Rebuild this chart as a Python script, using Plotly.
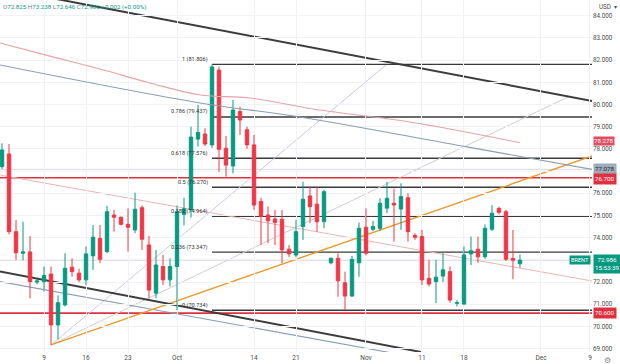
import plotly.graph_objects as go

# ---------------- data (daily bars incl. Sunday session; index 0 = Mon 2 Sep 2024) ----------------
bar_idx = list(range(75))
opens = [77.20, 77.77, 74.27, 73.30, 73.36, 72.00, 72.02, 72.36, 70.07, 70.97,
         72.67, 72.40, 72.10, 73.18, 73.97, 73.37, 75.02, 74.92, 74.60, 74.35,
         75.35, 73.67, 71.50, 72.70, 72.10, 72.70, 75.05, 75.25, 78.44, 78.67,
         78.18, 81.55, 78.03, 77.23, 79.68, 78.86, 78.18, 75.63, 75.02, 74.84,
         74.83, 73.48, 73.22, 74.50, 75.88, 75.51, 74.72, 72.87, 73.07, 71.97,
         71.37, 72.87, 74.47, 74.38, 74.42, 75.33, 75.55, 75.29, 75.80, 74.10,
         74.05, 72.17, 72.02, 72.27, 72.47, 71.05, 71.01, 73.27, 73.48, 73.14,
         74.38, 75.32, 75.17, 73.06, 72.825]
highs = [78.25, 78.22, 74.80, 74.72, 74.08, 72.15, 72.70, 72.70, 71.40, 73.30,
         73.07, 72.60, 73.60, 74.57, 74.57, 75.43, 75.25, 74.95, 75.32, 76.03,
         75.45, 74.08, 73.45, 73.22, 73.07, 75.45, 75.80, 79.00, 79.98, 78.93,
         81.806, 81.70, 78.58, 80.20, 79.90, 79.00, 78.63, 75.80, 75.40, 75.25,
         75.25, 73.67, 74.80, 76.52, 76.30, 76.30, 76.15, 73.10, 73.30, 72.47,
         73.18, 74.68, 75.32, 74.75, 75.77, 76.52, 76.22, 76.45, 76.00, 74.20,
         74.35, 73.00, 73.00, 73.30, 72.70, 71.18, 73.60, 74.05, 74.05, 74.60,
         75.47, 75.40, 75.25, 74.35, 73.238]
lows = [77.10, 74.15, 73.00, 72.98, 71.27, 71.90, 71.57, 69.17, 69.42, 70.90,
        72.24, 72.00, 71.87, 72.55, 72.85, 73.30, 74.27, 74.55, 73.37, 74.20,
        73.45, 71.27, 71.27, 71.87, 71.80, 70.734, 74.55, 74.90, 78.10, 78.13,
        78.04, 76.97, 76.75, 76.90, 78.63, 78.00, 75.25, 73.67, 73.75, 73.67,
        72.85, 73.13, 73.13, 73.90, 74.65, 74.27, 74.42, 72.80, 71.34, 70.74,
        71.34, 72.24, 73.20, 74.30, 74.30, 75.10, 73.82, 74.35, 73.82, 73.90,
        71.87, 71.80, 71.05, 72.00, 71.07, 70.90, 70.98, 72.77, 72.87, 73.05,
        74.30, 75.05, 72.95, 72.13, 72.646]
closes = [77.95, 74.27, 73.32, 73.36, 72.02, 72.05, 72.30, 70.07, 71.07, 72.62,
          72.47, 72.10, 73.27, 74.02, 73.03, 75.17, 74.92, 74.60, 74.47, 75.28,
          73.93, 71.64, 72.77, 72.10, 72.70, 75.17, 75.30, 78.53, 78.74, 78.22,
          81.69, 77.98, 77.27, 79.75, 79.30, 78.18, 75.47, 74.96, 74.76, 74.69,
          73.45, 73.27, 74.27, 75.73, 75.40, 74.72, 76.07, 73.07, 72.06, 71.37,
          73.02, 74.42, 73.30, 74.50, 75.55, 75.77, 75.47, 75.85, 74.27, 74.02,
          72.10, 71.91, 72.22, 72.55, 71.19, 71.07, 73.22, 73.41, 73.14, 74.42,
          75.10, 75.14, 73.03, 72.984, 72.986]

x_tick_pos = [6, 12, 18, 25, 36, 42, 52, 60, 66, 77, 84]
x_tick_text = ["9", "16", "23", "Oct", "14", "21", "Nov", "11", "18", "Dec", "9"]
y_tick_vals = list(range(69, 85))
y_hidden = [73, 77]          # tick labels covered by price labels in the reference
y_tick_text = ["" if v in y_hidden else f"{v:.3f}" for v in y_tick_vals]

fib_ratios = [1, 0.786, 0.618, 0.5, 0.382, 0.236, 0]
fib_prices = [81.806, 79.437, 77.576, 76.270, 74.964, 73.347, 70.734]
fib_start_bar = 30

red_levels = [76.700, 70.600]
grey_levels = [77.078, 72.986]

ma_pink_x = [-0.3, 6.86, 14, 21.14, 28.29, 35.43, 45.43, 58.29, 74]
ma_pink_y = [82.77, 82.18, 81.60, 80.97, 80.43, 80.29, 79.75, 79.21, 78.278]
ma_blue_x = [-0.3, 28.29, 42.57, 66.43, 84.3]
ma_blue_y = [81.78, 80.07, 79.44, 78.09, 77.078]

# drawn trend lines: [x0, y0, x1, y1]
dark_top = [0, 85.22, 84.3, 80.16]
dark_bottom = [-0.3, 72.48, 60, 68.84]
blue_bottom = [-0.3, 72.02, 56, 68.79]
rose_mid = [-0.3, 76.82, 84.3, 72.05]
orange_up = [7, 69.17, 84.3, 77.68]
fan_steep = [7, 69.17, 54.86, 81.78]
fan_mid = [7, 69.17, 80.86, 80.34]

last_price = 72.986
countdown = "15:53:39"
ohlc_header = [("O", "72.825"), ("H", "73.238"), ("L", "72.646"), ("C", "72.986")]
change_text = "+0.002 (+0.00%)"

# ---------------- styling ----------------
GREEN = "#089981"
RED = "#f23645"
FONT = "Roboto"
TXT = "#4a4a4a"

fig = go.Figure()

fig.add_trace(go.Candlestick(
    x=bar_idx, open=opens, high=highs, low=lows, close=closes,
    increasing=dict(line=dict(color=GREEN, width=1), fillcolor=GREEN),
    decreasing=dict(line=dict(color=RED, width=1), fillcolor=RED),
    whiskerwidth=0, hoverinfo="skip", showlegend=False,
))

fig.add_trace(go.Scatter(x=ma_pink_x, y=ma_pink_y, mode="lines",
                         line=dict(color="#e3a3a8", width=1.1, shape="spline"),
                         hoverinfo="skip", showlegend=False))
fig.add_trace(go.Scatter(x=ma_blue_x, y=ma_blue_y, mode="lines",
                         line=dict(color="#8c9dae", width=1.1, shape="spline"),
                         hoverinfo="skip", showlegend=False))

shapes = []


def seg(c, color, width):
    shapes.append(dict(type="line", xref="x", yref="y", x0=c[0], y0=c[1], x1=c[2], y1=c[3],
                       line=dict(color=color, width=width), layer="below"))


for lv in grey_levels:
    shapes.append(dict(type="line", xref="paper", yref="y", x0=0, x1=1, y0=lv, y1=lv,
                       line=dict(color="#d6d8dc", width=1), layer="below"))
for fp in fib_prices:
    shapes.append(dict(type="line", xref="x", yref="y", x0=fib_start_bar, x1=85, y0=fp, y1=fp,
                       line=dict(color="#3a3a3a", width=1.4), layer="below"))
for lv in red_levels:
    shapes.append(dict(type="line", xref="paper", yref="y", x0=0, x1=1, y0=lv, y1=lv,
                       line=dict(color="#e0303f", width=1.6), layer="below"))

seg(rose_mid, "#e8b5b9", 1)
seg(fan_steep, "#c9cbe0", 1)
seg(fan_mid, "#cfcfcf", 1)
seg(blue_bottom, "#8c9dae", 1.1)
seg(orange_up, "#e89b2c", 1.4)
seg(dark_top, "#3c3c3c", 2)
seg(dark_bottom, "#3c3c3c", 2)

annotations = []
for r, p in zip(fib_ratios, fib_prices):
    annotations.append(dict(x=fib_start_bar - 0.35, y=p, xref="x", yref="y", xanchor="right",
                            yanchor="middle", yshift=5, showarrow=False,
                            text=f"{r:g} ({p:.3f})", font=dict(family=FONT, size=5.6, color="#333333")))

right_labels = [(78.278, "#df4d60", "white", 2, 0), (77.078, "#9eabb8", "#1f2a36", 0, 1),
                (76.700, "#e0303f", "white", -1, 1), (70.600, "#e0303f", "white", 0, 1)]
for val, bg, fc, ysh, pad in right_labels:
    annotations.append(dict(x=1, y=val, xref="paper", yref="y", xanchor="left", yanchor="middle",
                            xshift=1, yshift=ysh, showarrow=False, text=f"{val:.3f}", bgcolor=bg,
                            borderpad=pad, font=dict(family=FONT, size=6.2, color=fc)))
annotations.append(dict(x=1, y=last_price, xref="paper", yref="y", xanchor="left", yanchor="middle",
                        xshift=1, yshift=-4, showarrow=False, text=f"{last_price:.3f}<br>{countdown}",
                        bgcolor=GREEN, borderpad=1, align="center",
                        font=dict(family=FONT, size=6.2, color="white")))
annotations.append(dict(x=1, y=last_price, xref="paper", yref="y", xanchor="right", yanchor="middle",
                        xshift=-1, showarrow=False, text="BRENT", bgcolor=GREEN, borderpad=1,
                        font=dict(family=FONT, size=5.6, color="white")))

hdr = " ".join(f"<span style='color:#787b86'>{k}</span><span style='color:{GREEN}'>{v}</span>"
               for k, v in ohlc_header)
hdr += f" <span style='color:{GREEN}'>{change_text}</span>"
annotations.append(dict(x=0, y=1, xref="paper", yref="paper", xanchor="left", yanchor="top",
                        xshift=1, yshift=-1, showarrow=False, text=hdr,
                        font=dict(family=FONT, size=6.2, color="#787b86")))
annotations.append(dict(x=1, y=1, xref="paper", yref="paper", xanchor="left", yanchor="top",
                        xshift=5, yshift=-1, showarrow=False, text="USD  ▾",
                        font=dict(family=FONT, size=6.3, color=TXT)))
annotations.append(dict(x=1, y=0, xref="paper", yref="paper", xanchor="left", yanchor="top",
                        xshift=10, yshift=-2, showarrow=False, text="⚙",
                        font=dict(family="DejaVu Sans", size=8, color="#8a8a8a")))

fig.update_layout(
    width=620, height=364,
    margin=dict(l=0, r=28, t=0, b=12),
    paper_bgcolor="white", plot_bgcolor="white",
    showlegend=False,
    shapes=shapes, annotations=annotations,
    font=dict(family=FONT, size=6.5, color=TXT),
    xaxis=dict(range=[-0.29, 84.29], tickmode="array", tickvals=x_tick_pos, ticktext=x_tick_text,
               showgrid=True, gridcolor="#f0f2f6", gridwidth=1, zeroline=False, showline=False,
               ticks="", rangeslider=dict(visible=False), tickfont=dict(size=6.5, color=TXT),
               fixedrange=True),
    yaxis=dict(range=[68.85, 84.707], side="right", tickmode="array", tickvals=y_tick_vals,
               ticktext=y_tick_text, showgrid=True, gridcolor="#f0f2f6", gridwidth=1,
               zeroline=False, showline=False, ticks="", tickfont=dict(size=6.3, color=TXT),
               fixedrange=True),
)

fig.write_html("out.html", config={"displayModeBar": False})
